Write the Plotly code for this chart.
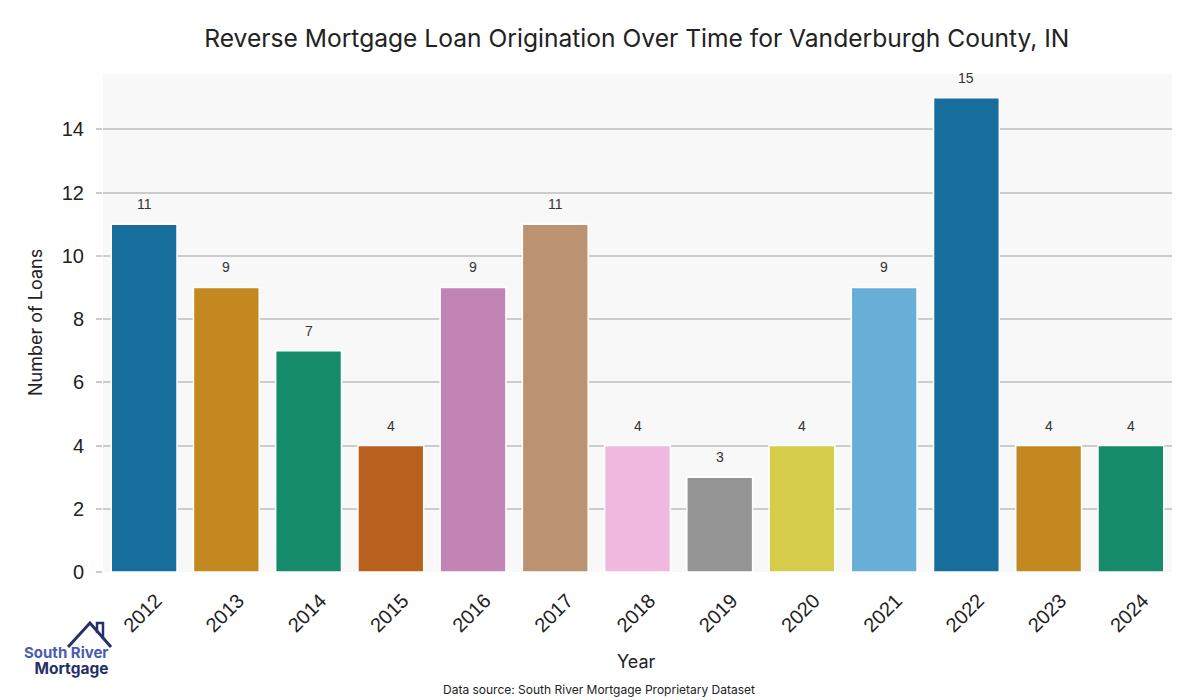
import plotly.graph_objects as go

years = ["2012", "2013", "2014", "2015", "2016", "2017", "2018", "2019", "2020", "2021", "2022", "2023", "2024"]
loans = [11, 9, 7, 4, 9, 11, 4, 3, 4, 9, 15, 4, 4]
colors = ["#176d9c", "#c38820", "#158b6a", "#b8611f", "#c283b5", "#bc9270",
          "#f1b8df", "#949494", "#d6cc4c", "#68afd7", "#176d9c", "#c38820", "#158b6a"]

fig = go.Figure()
fig.add_trace(go.Bar(
    x=years, y=loans,
    marker=dict(color=colors, line=dict(color="white", width=1.5)),
    width=0.8,
    hoverinfo="x+y",
))

for i, v in enumerate(loans):
    fig.add_annotation(
        x=i, y=v, text=str(v), showarrow=False, yshift=20,
        xanchor="center", yanchor="middle",
        font=dict(family="Liberation Sans, Arial", size=14, color="#333333"),
    )

fig.update_layout(
    width=1200, height=700,
    margin=dict(l=95, r=36, t=66, b=136, autoexpand=False),
    paper_bgcolor="white",
    plot_bgcolor="#f8f8f8",
    showlegend=False,
    bargap=0.2,
    title=dict(
        text="Reverse Mortgage Loan Origination Over Time for Vanderburgh County, IN",
        x=0.524, xanchor="center", xref="container",
        y=1 - 30 / 700, yanchor="middle", yref="container",
        font=dict(family="Inter, Lato, sans-serif", size=24.6, color="#222222"),
    ),
    xaxis=dict(
        type="category",
        categoryorder="array", categoryarray=years,
        range=[-0.5, len(years) - 0.5],
        automargin=False,
        tickangle=-45,
        ticklabelshift=12, ticklabelstandoff=12,
        tickfont=dict(family="Liberation Sans, Arial", size=20, color="#222222"),
        showgrid=False, showline=False, zeroline=False,
        ticks="", ticklen=0,
    ),
    yaxis=dict(
        automargin=False,
        range=[0, 15.75],
        tickvals=[0, 2, 4, 6, 8, 10, 12, 14],
        ticklabelstandoff=8,
        tickfont=dict(family="Liberation Sans, Arial", size=20, color="#222222"),
        showgrid=True, gridcolor="#cccccc", gridwidth=1.5,
        zeroline=False, showline=False,
        ticks="outside", ticklen=6, tickcolor="#cccccc", tickwidth=1.5,
    ),
)

# Axis titles
fig.add_annotation(
    text="Year", xref="paper", yref="paper", x=0.4995, y=-0.179,
    xanchor="center", yanchor="middle", showarrow=False,
    font=dict(family="Inter, Lato, sans-serif", size=18, color="#222222"),
)
fig.add_annotation(
    text="Number of Loans", xref="paper", yref="paper", x=-0.0636, y=0.5,
    xanchor="center", yanchor="middle", showarrow=False, textangle=-90,
    font=dict(family="Inter, Lato, sans-serif", size=18, color="#222222"),
)

# Data source note
fig.add_annotation(
    text="Data source: South River Mortgage Proprietary Dataset",
    xref="paper", yref="paper", x=0.464, y=-0.235, xanchor="center", yanchor="middle",
    showarrow=False, font=dict(family="Inter, Lato, sans-serif", size=12, color="#222222"),
)

# Logo: house outline and text
fig.add_shape(type="path", xref="paper", yref="paper",
              path="M -0.0327,-0.1506 L -0.0122,-0.1024 L 0.0075,-0.1506",
              line=dict(color="#27306b", width=3))
fig.add_shape(type="path", xref="paper", yref="paper",
              path="M -0.0056,-0.1225 L -0.0056,-0.1024 L 0.0000,-0.1024 L 0.0000,-0.1345",
              line=dict(color="#27306b", width=2.5))
fig.add_annotation(
    text=("<b><span style='color:#4a5cb0;font-size:15px'>South River</span><br>"
          "<span style='color:#262f66;font-size:15.5px'>Mortgage</span></b>"),
    xref="paper", yref="paper", x=0.0065, y=-0.1787,
    xanchor="right", yanchor="middle", align="right", showarrow=False,
    font=dict(family="Inter, Lato, sans-serif", size=12.4, color="#262f66"),
)

fig.write_html("out.html")
